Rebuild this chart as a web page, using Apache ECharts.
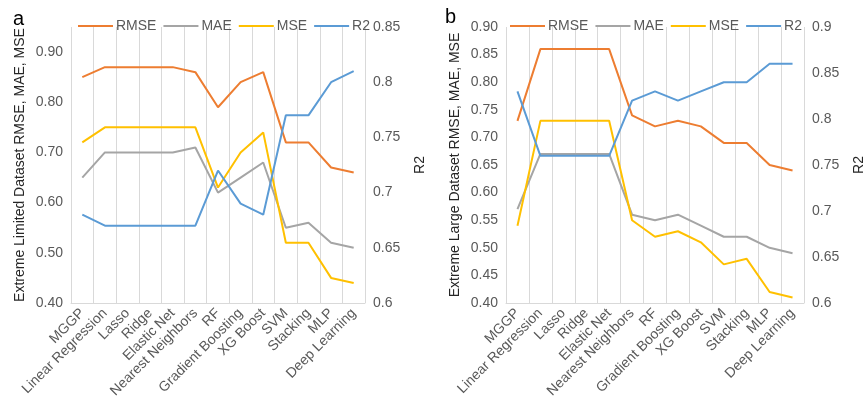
<!DOCTYPE html>
<html lang="en">
<head>
    <meta charset="UTF-8">
    <title>Model errors</title>
    <style>
        body{ margin: 0; background: #fff; }
    </style>
    <script src="https://cdn.jsdelivr.net/npm/echarts@6/dist/echarts.min.js"></script>
</head>
<body>
    <div id="main" style="width: 867px;height:405px;"></div>
    <script type="text/javascript">
        // 模型名称
        var models = ['MGGP', 'Linear Regression', 'Lasso', 'Ridge', 'Elastic Net', 'Nearest Neighbors',
            'RF', 'Gradient Boosting', 'XG Boost', 'SVM', 'Stacking', 'MLP', 'Deep Learning'];

        // a: Extreme Limited Dataset
        var rmseA = [0.85, 0.87, 0.87, 0.87, 0.87, 0.86, 0.79, 0.84, 0.86, 0.72, 0.72, 0.67, 0.66];
        var maeA  = [0.65, 0.70, 0.70, 0.70, 0.70, 0.71, 0.62, 0.65, 0.68, 0.55, 0.56, 0.52, 0.51];
        var mseA  = [0.72, 0.75, 0.75, 0.75, 0.75, 0.75, 0.63, 0.70, 0.74, 0.52, 0.52, 0.45, 0.44];
        var r2A   = [0.68, 0.67, 0.67, 0.67, 0.67, 0.67, 0.72, 0.69, 0.68, 0.77, 0.77, 0.80, 0.81];

        // b: Extreme Large Dataset
        var rmseB = [0.73, 0.86, 0.86, 0.86, 0.86, 0.74, 0.72, 0.73, 0.72, 0.69, 0.69, 0.65, 0.64];
        var maeB  = [0.57, 0.67, 0.67, 0.67, 0.67, 0.56, 0.55, 0.56, 0.54, 0.52, 0.52, 0.50, 0.49];
        var mseB  = [0.54, 0.73, 0.73, 0.73, 0.73, 0.55, 0.52, 0.53, 0.51, 0.47, 0.48, 0.42, 0.41];
        var r2B   = [0.83, 0.76, 0.76, 0.76, 0.76, 0.82, 0.83, 0.82, 0.83, 0.84, 0.84, 0.86, 0.86];

        var colors = ['#ED7D31', '#A5A5A5', '#FFC000', '#5B9BD5'];
        var names = ['RMSE', 'MAE', 'MSE', 'R2'];
        var txt = '#595959';

        var myChart = echarts.init(document.getElementById('main'));

        function xAxisFor(idx) {
            return {
                type: 'category',
                gridIndex: idx,
                data: models,
                axisLine: { lineStyle: { color: '#d9d9d9' } },
                axisTick: { show: false },
                splitLine: { show: true, lineStyle: { color: '#d9d9d9' } },
                axisLabel: { interval: 0, rotate: 45, fontSize: 14, color: txt, margin: 8, fontFamily: 'Liberation Sans' }
            };
        }

        function yAxisFor(idx, pos, min, max, step, name, digits, hideMax) {
            return {
                type: 'value',
                gridIndex: idx,
                position: pos,
                min: min,
                max: max,
                interval: step,
                name: name,
                nameLocation: 'middle',
                nameRotate: 90,
                nameGap: pos === 'left' ? 44 : 48,
                nameTextStyle: { fontSize: 14, color: '#262626', fontFamily: 'Liberation Sans' },
                axisLine: { show: false },
                axisTick: { show: false },
                splitLine: { show: false },
                axisLabel: {
                    fontSize: 14, color: txt, fontFamily: 'Liberation Sans',
                    showMaxLabel: !hideMax,
                    formatter: function (v) {
                        return digits ? v.toFixed(digits) : String(+v.toFixed(2));
                    }
                }
            };
        }

        function lineSeries(name, xi, yi, data, color) {
            return {
                name: name,
                type: 'line',
                xAxisIndex: xi,
                yAxisIndex: yi,
                data: data,
                symbol: 'none',
                lineStyle: { width: 2, color: color },
                itemStyle: { color: color }
            };
        }

        var legendBase = {
            data: names,
            top: 14,
            itemWidth: 35,
            itemHeight: 2,
            itemGap: 6,
            textStyle: { fontSize: 14, color: txt, fontFamily: 'Liberation Sans', padding: [0, 0, 0, -2] }
        };

        var option = {
            color: colors,
            animation: false,
            title: [
                { text: 'a', left: 8, top: 4, textStyle: { fontSize: 20, fontWeight: 'normal', color: '#000', fontFamily: 'Liberation Sans' } },
                { text: 'b', left: 440, top: 2, textStyle: { fontSize: 20, fontWeight: 'normal', color: '#000', fontFamily: 'Liberation Sans' } }
            ],
            legend: [
                Object.assign({}, legendBase, { left: 72 }),
                Object.assign({}, legendBase, { left: 504 })
            ],
            grid: [
                { left: 71, right: 502, top: 27, bottom: 102 },
                { left: 506, right: 60, top: 27, bottom: 102 }
            ],
            xAxis: [xAxisFor(0), xAxisFor(1)],
            yAxis: [
                yAxisFor(0, 'left', 0.4, 0.95, 0.1, 'Extreme Limited Dataset RMSE, MAE, MSE', 2, true),
                yAxisFor(0, 'right', 0.6, 0.85, 0.05, 'R2', 0, false),
                yAxisFor(1, 'left', 0.4, 0.9, 0.05, 'Extreme Large Dataset RMSE, MAE, MSE', 2, false),
                yAxisFor(1, 'right', 0.6, 0.9, 0.05, 'R2', 0, false)
            ],
            series: [
                lineSeries('RMSE', 0, 0, rmseA, colors[0]),
                lineSeries('MAE', 0, 0, maeA, colors[1]),
                lineSeries('MSE', 0, 0, mseA, colors[2]),
                lineSeries('R2', 0, 1, r2A, colors[3]),
                lineSeries('RMSE', 1, 2, rmseB, colors[0]),
                lineSeries('MAE', 1, 2, maeB, colors[1]),
                lineSeries('MSE', 1, 2, mseB, colors[2]),
                lineSeries('R2', 1, 3, r2B, colors[3])
            ]
        };

        myChart.setOption(option);
    </script>
</body>
</html>
